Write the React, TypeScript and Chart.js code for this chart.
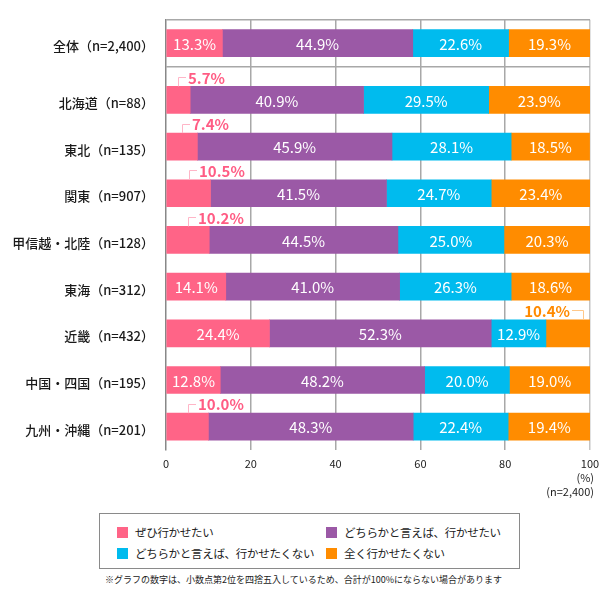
import React, { useEffect, useRef } from "react";
import { Chart, registerables } from "chart.js";

Chart.register(...registerables);

const categories = [
  "全体（n=2,400）",
  "北海道（n=88）",
  "東北（n=135）",
  "関東（n=907）",
  "甲信越・北陸（n=128）",
  "東海（n=312）",
  "近畿（n=432）",
  "中国・四国（n=195）",
  "九州・沖縄（n=201）",
];
const rowPositions = [0, 1.216, 2.216, 3.216, 4.216, 5.216, 6.216, 7.216, 8.216];
const separatorPositions = [-0.5, 0.5];

const seriesNames = [
  "ぜひ行かせたい",
  "どちらかと言えば、行かせたい",
  "どちらかと言えば、行かせたくない",
  "全く行かせたくない",
];
const definitely = [13.3, 5.7, 7.4, 10.5, 10.2, 14.1, 24.4, 12.8, 10.0];
const somewhat = [44.9, 40.9, 45.9, 41.5, 44.5, 41.0, 52.3, 48.2, 48.3];
const somewhatNot = [22.6, 29.5, 28.1, 24.7, 25.0, 26.3, 12.9, 20.0, 22.4];
const notAtAll = [19.3, 23.9, 18.5, 23.4, 20.3, 18.6, 10.4, 19.0, 19.4];
const seriesValues = [definitely, somewhat, somewhatNot, notAtAll];
const colors = ["#ff6487", "#9b59a6", "#00bbee", "#ff8c00"];
const outsideColors = ["#ff5c84", "#9b59a6", "#00bbee", "#ff8a00"];
const leaderColors = ["#ffb5c7", "#c9a0d0", "#90dff5", "#ffc88a"];
const xTicks = [0, 20, 40, 60, 80, 100];

const FONT = "'Noto Sans CJK JP', 'Noto Sans', sans-serif";

const labelPlugin = {
  id: "barLabels",
  afterDatasetsDraw(chart: any) {
    const ctx = chart.ctx;
    ctx.save();
    chart.data.datasets.forEach((ds: any, di: number) => {
      const meta = chart.getDatasetMeta(di);
      meta.data.forEach((el: any, i: number) => {
        const v = seriesValues[di][i];
        const p = el.getProps(["x", "base", "y", "height"], true);
        const left = Math.min(p.x, p.base);
        const right = Math.max(p.x, p.base);
        const cx = (left + right) / 2;
        const top = p.y - p.height / 2;
        const text = v.toFixed(1) + "%";
        if (v >= 11) {
          ctx.fillStyle = "#ffffff";
          ctx.font = `15px ${FONT}`;
          ctx.textAlign = "center";
          ctx.textBaseline = "middle";
          ctx.fillText(text, cx, p.y + 1);
        } else {
          const ly = top - 9.5;
          ctx.font = `bold 15px ${FONT}`;
          ctx.textBaseline = "middle";
          ctx.fillStyle = outsideColors[di];
          ctx.strokeStyle = leaderColors[di];
          ctx.lineWidth = 1;
          if (di === 0) {
            const lx = Math.round(cx);
            ctx.beginPath();
            ctx.moveTo(lx + 0.5, top);
            ctx.lineTo(lx + 0.5, Math.round(ly) + 0.5);
            ctx.lineTo(lx + 8, Math.round(ly) + 0.5);
            ctx.stroke();
            ctx.textAlign = "left";
            ctx.fillText(text, lx + 10, ly + 1);
          } else {
            const lx = Math.round(right - 7);
            ctx.beginPath();
            ctx.moveTo(lx + 0.5, top);
            ctx.lineTo(lx + 0.5, Math.round(ly) + 0.5);
            ctx.lineTo(lx - 11, Math.round(ly) + 0.5);
            ctx.stroke();
            ctx.textAlign = "right";
            ctx.fillText(text, lx - 13, ly + 1);
          }
        }
      });
    });
    // axis unit notes
    const xs = chart.scales.x;
    const rx = xs.getPixelForValue(100) + 4;
    ctx.fillStyle = "#222";
    ctx.font = `11px ${FONT}`;
    ctx.textAlign = "right";
    ctx.textBaseline = "middle";
    ctx.fillText("(%)", rx, 478);
    ctx.fillText("(n=2,400)", rx, 492);
    ctx.restore();
  },
};

export default function App() {
  const ref = useRef<HTMLCanvasElement>(null);
  useEffect(() => {
    if (!ref.current) return;
    const chart = new Chart(ref.current, {
      type: "bar",
      data: {
        datasets: seriesValues.map((vals, di) => ({
          label: seriesNames[di],
          data: vals.map((v, i) => ({ x: v, y: rowPositions[i] })),
          backgroundColor: colors[di],
          borderWidth: 0,
          barThickness: 27,
        })),
      },
      options: {
        indexAxis: "y",
        animation: false,
        responsive: false,
        maintainAspectRatio: false,
        layout: { padding: { left: 0, right: 17, top: 5, bottom: 0 } },
        plugins: {
          legend: { display: false },
          tooltip: { enabled: false },
        },
        scales: {
          x: {
            type: "linear",
            stacked: true,
            min: 0,
            max: 100,
            afterBuildTicks: (scale: any) => {
              scale.ticks = xTicks.map((v) => ({ value: v }));
            },
            afterFit: (scale: any) => {
              scale.height = 50;
            },
            ticks: {
              padding: 7,
              color: "#222",
              font: { family: FONT, size: 11 },
              maxRotation: 0,
            },
            grid: {
              drawTicks: false,
              lineWidth: 1.5,
              color: (c: any) =>
                c.tick && c.tick.value === 0
                  ? "rgba(0,0,0,0)"
                  : c.tick && c.tick.value === 100
                  ? "#c4c4c4"
                  : "#a8a8a8",
            },
            border: { display: false },
          },
          y: {
            type: "linear",
            stacked: true,
            reverse: true,
            offset: false,
            min: -0.5,
            max: 8.716,
            afterBuildTicks: (scale: any) => {
              scale.ticks = [...separatorPositions, ...rowPositions].map((v) => ({ value: v }));
            },
            afterFit: (scale: any) => {
              scale.width = 166;
            },
            ticks: {
              padding: 12,
              labelOffset: 3,
              color: "#1a1a1a",
              font: { family: FONT, size: 13, weight: 500 },
              callback: (value: any) => {
                const idx = rowPositions.indexOf(Number(value));
                return idx >= 0 ? categories[idx] : "";
              },
            },
            grid: {
              offset: false,
              drawTicks: false,
              lineWidth: 1.5,
              color: (c: any) =>
                c.tick && separatorPositions.includes(c.tick.value) ? "#a8a8a8" : "rgba(0,0,0,0)",
            },
            border: { display: true, color: "#888", width: 1.5 },
          },
        },
      },
      plugins: [labelPlugin],
    });
    return () => chart.destroy();
  }, []);

  const legendItem = (i: number, x: number, y: number) => (
    <div key={i} style={{ position: "absolute", left: x, top: y, display: "flex", alignItems: "center", height: 14 }}>
      <div style={{ width: 11, height: 11, background: colors[i], marginRight: 7 }} />
      <span style={{ fontSize: 11.5, letterSpacing: -0.3, color: "#222", whiteSpace: "nowrap", lineHeight: "14px" }}>{seriesNames[i]}</span>
    </div>
  );

  return (
    <div style={{ position: "absolute", left: 0, top: 0, width: 607, height: 591, background: "#fff", fontFamily: FONT }}>
      <canvas ref={ref} width={607} height={500} style={{ position: "absolute", left: 0, top: 0, width: 607, height: 500 }} />
      <div style={{ position: "absolute", left: 99, top: 513, width: 419, height: 54, border: "1px solid #8a8a8a" }} />
      {legendItem(0, 117, 525)}
      {legendItem(1, 326, 525)}
      {legendItem(2, 117, 546)}
      {legendItem(3, 326, 546)}
      <div style={{ position: "absolute", left: 105, top: 573, fontSize: 9, color: "#222", whiteSpace: "nowrap", lineHeight: "14px" }}>
        ※グラフの数字は、小数点第2位を四捨五入しているため、合計が100%にならない場合があります
      </div>
    </div>
  );
}
